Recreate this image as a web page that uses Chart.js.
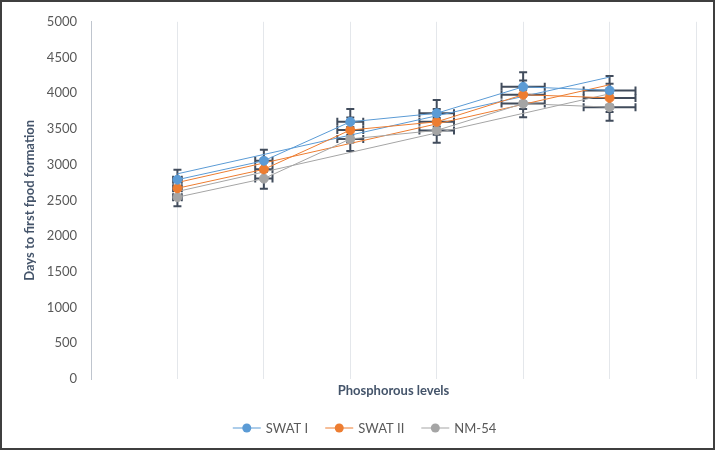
<!DOCTYPE html>
<html>
<head>
<meta charset="utf-8">
<script src="https://cdn.jsdelivr.net/npm/chart.js@4"></script>
<style>
  html, body { margin: 0; padding: 0; background: #fff; }
  #wrap { position: relative; width: 715px; height: 450px; }
  #frame { position: absolute; left: 0; top: 0; right: 0; bottom: 0; border: 2px solid #3f3f3f; box-sizing: border-box; pointer-events: none; }
</style>
</head>
<body>
<div id="wrap">
  <canvas id="myChart" width="715" height="450"></canvas>
  <div id="frame"></div>
</div>
<script>
// phosphorous level index on x
const levels = [1, 2, 3, 4, 5, 6];
const swat1 = [2790, 3055, 3600, 3720, 4090, 4040];
const swat2 = [2670, 2935, 3485, 3600, 3980, 3935];
const nm54 = [2545, 2805, 3360, 3480, 3855, 3805];
const seriesNames = ['SWAT I', 'SWAT II', 'NM-54'];
const seriesColors = ['#5B9BD5', '#ED7D31', '#A5A5A5'];
const errPct = 0.05; // percentage error bars, both directions

const allSeries = [swat1, swat2, nm54];

// linear trendline through each series (like excel's)
function trend(vals) {
  const n = levels.length;
  const mx = levels.reduce((a, b) => a + b) / n;
  const my = vals.reduce((a, b) => a + b) / n;
  let sxy = 0, sxx = 0;
  levels.forEach((lv, i) => {
    sxy += (lv - mx) * (vals[i] - my);
    sxx += (lv - mx) * (lv - mx);
  });
  const b = sxy / sxx, a = my - b * mx;
  return [{x: levels[0], y: a + b * levels[0]}, {x: levels[n - 1], y: a + b * levels[n - 1]}];
}

const errorBars = {
  id: 'errorBars',
  beforeDatasetsDraw(chart) {
    const {ctx, scales: {x, y}} = chart;
    const cap = 4;
    ctx.save();
    ctx.strokeStyle = '#414c5c';
    ctx.lineWidth = 2;
    allSeries.forEach(vals => {
      vals.forEach((v, i) => {
        const lv = levels[i];
        const px = x.getPixelForValue(lv), py = y.getPixelForValue(v);
        const yTop = y.getPixelForValue(v * (1 + errPct));
        const yBot = y.getPixelForValue(v * (1 - errPct));
        const xL = x.getPixelForValue(lv * (1 - errPct));
        const xR = x.getPixelForValue(lv * (1 + errPct));
        ctx.beginPath();
        ctx.moveTo(px, yTop); ctx.lineTo(px, yBot);
        ctx.moveTo(px - cap, yTop); ctx.lineTo(px + cap, yTop);
        ctx.moveTo(px - cap, yBot); ctx.lineTo(px + cap, yBot);
        ctx.moveTo(xL, py); ctx.lineTo(xR, py);
        ctx.moveTo(xL, py - cap); ctx.lineTo(xL, py + cap);
        ctx.moveTo(xR, py - cap); ctx.lineTo(xR, py + cap);
        ctx.stroke();
      });
    });
    ctx.restore();
  }
};

const bottomLegend = {
  id: 'bottomLegend',
  afterDraw(chart) {
    const ctx = chart.ctx;
    const lineLen = 28, gap = 5, itemGap = 17;
    ctx.save();
    ctx.font = '13px Lato';
    const widths = seriesNames.map(n => lineLen + gap + ctx.measureText(n).width);
    const total = widths.reduce((a, b) => a + b) + itemGap * (widths.length - 1);
    let xPos = chart.width / 2 + 7 - total / 2;
    const yPos = 428;
    seriesNames.forEach((name, i) => {
      ctx.strokeStyle = seriesColors[i];
      ctx.lineWidth = 1;
      ctx.beginPath();
      ctx.moveTo(xPos, yPos); ctx.lineTo(xPos + lineLen, yPos);
      ctx.stroke();
      ctx.fillStyle = seriesColors[i];
      ctx.beginPath();
      ctx.arc(xPos + lineLen / 2, yPos, 4.5, 0, Math.PI * 2);
      ctx.fill();
      ctx.fillStyle = '#595959';
      ctx.textBaseline = 'middle';
      ctx.fillText(name, xPos + lineLen + gap, yPos + 1);
      xPos += widths[i] + itemGap;
    });
    ctx.restore();
  }
};

const datasets = allSeries.map((vals, i) => ({
  label: seriesNames[i],
  data: levels.map((lv, j) => ({x: lv, y: vals[j]})),
  showLine: true,
  borderColor: seriesColors[i],
  backgroundColor: seriesColors[i],
  borderWidth: 1,
  pointRadius: 4.5,
  pointHoverRadius: 4.5
}));
allSeries.forEach((vals, i) => {
  datasets.push({
    label: seriesNames[i] + ' trend',
    data: trend(vals),
    showLine: true,
    borderColor: seriesColors[i],
    borderWidth: 1,
    pointRadius: 0
  });
});

const ctx = document.getElementById('myChart');
new Chart(ctx, {
  type: 'scatter',
  data: {datasets: datasets},
  options: {
    responsive: false,
    animation: false,
    layout: {padding: {top: 17, right: 19, left: 0, bottom: 0}},
    plugins: {
      legend: {display: false},
      tooltip: {enabled: false}
    },
    scales: {
      x: {
        min: 0, max: 7,
        ticks: {display: false, stepSize: 1},
        grid: {color: '#E4E7EB', drawTicks: false},
        border: {display: false},
        title: {
          display: true,
          text: 'Phosphorous levels',
          color: '#44546A',
          font: {family: 'Lato', size: 13, weight: 'bold'},
          padding: {top: 0, bottom: 51}
        },
        afterFit(scale) { scale.height = 71; }
      },
      y: {
        min: 0, max: 5000,
        ticks: {
          stepSize: 500, color: '#595959', padding: 14,
          font: {family: 'Lato', size: 13},
          callback: v => String(v)
        },
        grid: {display: false, drawTicks: false},
        border: {display: true, color: '#BFC5CE'},
        title: {
          display: true,
          text: 'Days to first fpod formation',
          color: '#44546A',
          font: {family: 'Lato', size: 13, weight: 'bold'},
          padding: {top: 22, bottom: 0}
        },
        afterFit(scale) { scale.width = 91; }
      }
    }
  },
  plugins: [errorBars, bottomLegend]
});
</script>
</body>
</html>
